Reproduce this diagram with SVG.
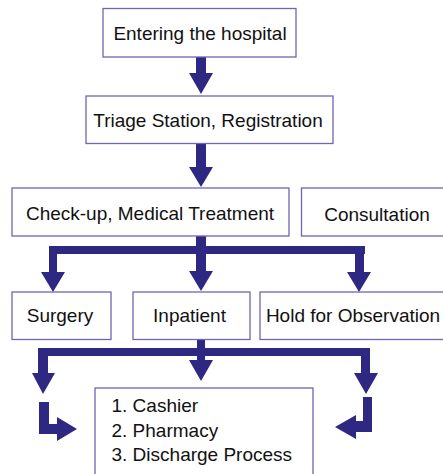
<svg xmlns="http://www.w3.org/2000/svg" width="443" height="474" viewBox="0 0 443 474">
<style>
.box{fill:#fff;stroke:#6f66b3;stroke-width:1.3}
.t{font-family:"Liberation Sans",Arial,sans-serif;font-size:19px;fill:#111;text-anchor:middle}
.tl{font-family:"Liberation Sans",Arial,sans-serif;font-size:19px;fill:#111}
.a{fill:#2f2883}
</style>
<rect width="443" height="474" fill="#fff"/>
<g id="connectors">
<path class="a" d="M196,57H206V73H213L201,94L189,73H196Z"/>
<path class="a" d="M196,144H206V167H213L201,187L189,167H196Z"/>
<path class="a" d="M196,236H206V246H365V254H364V272H371L359,292L347,272H355V254H206V271H213L201,291L189,271H196V254H57V272H65L53,292L41,272H49V246H196Z"/>
<path class="a" d="M197,340H205V348H370V373H378L366,394L354,373H361V356H205V360H213L201,381L189,360H197V356H48V373H55L43,394L32,373H38V348H197Z"/>
<path class="a" d="M39,402H49V424H57V417L77,429L57,441V434H39Z"/>
<path class="a" d="M363,397H372V432H356V439L335,427L356,415V421H363Z"/>
</g>
<g id="n1"><rect class="box" x="103" y="8.5" width="193" height="48.5"/><text class="t" x="200" y="39.5">Entering the hospital</text></g>
<g id="n2"><rect class="box" x="86" y="96" width="247" height="47.5"/><text class="t" x="208" y="126.5">Triage Station, Registration</text></g>
<g id="n3"><rect class="box" x="12" y="188" width="277" height="48"/><text class="t" x="150" y="220">Check-up, Medical Treatment</text></g>
<g id="n4"><rect class="box" x="301.5" y="188" width="150" height="48"/><text class="t" x="377" y="220.5">Consultation</text></g>
<g id="n5"><rect class="box" x="12" y="292" width="99" height="47.5"/><text class="t" x="60" y="322">Surgery</text></g>
<g id="n6"><rect class="box" x="133" y="292" width="117" height="47.5"/><text class="t" x="189.5" y="322">Inpatient</text></g>
<g id="n7"><rect class="box" x="260" y="292" width="190" height="47.5"/><text class="t" x="353" y="322">Hold for Observation</text></g>
<g id="n8"><rect class="box" x="95" y="388" width="218" height="100"/>
<text class="tl" x="111.5" y="412">1. Cashier</text>
<text class="tl" x="111.5" y="437">2. Pharmacy</text>
<text class="tl" x="111.5" y="460.5">3. Discharge Process</text></g>
</svg>
